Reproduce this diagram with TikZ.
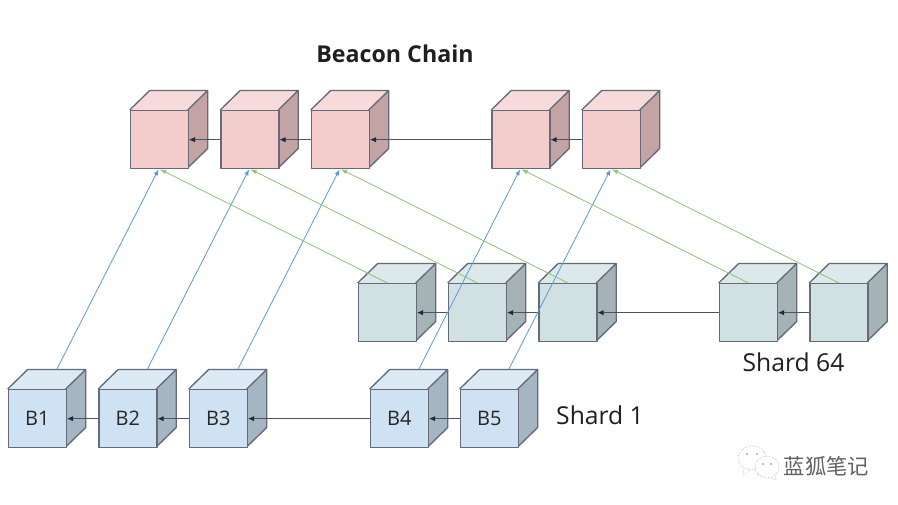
\documentclass[tikz,border=0pt]{standalone}
\usepackage{fontspec}
\setmainfont{Open Sans}
\newfontfamily\cjkf{Noto Sans CJK SC}
\usetikzlibrary{arrows.meta}
\definecolor{pinkF}{HTML}{F4CCCC}\definecolor{pinkT}{HTML}{F7DBDB}\definecolor{pinkS}{HTML}{C3A3A3}
\definecolor{grayF}{HTML}{D0E0E3}\definecolor{grayT}{HTML}{DCE8EA}\definecolor{grayS}{HTML}{A6B3B6}
\definecolor{blueF}{HTML}{CFE2F3}\definecolor{blueT}{HTML}{DCEAF6}\definecolor{blueS}{HTML}{A6B5C2}
\definecolor{edgeC}{HTML}{666A78}
\definecolor{linkC}{HTML}{4A5468}
\definecolor{headC}{HTML}{1C2A44}
\definecolor{upBlue}{HTML}{5E9AD6}
\definecolor{upGreen}{HTML}{8FC474}
\tikzset{
  x=0.75pt,y=-0.75pt,
  face/.style={draw=edgeC,line width=1pt,line join=round},
  front/.style={face,rectangle,minimum width=43.5pt,minimum height=43.5pt,inner sep=0pt,anchor=north west,font=\fontsize{15}{17}\selectfont,text=black!85},
  link/.style={draw=linkC,line width=0.6pt,-{Latex[length=4.5pt,width=4pt,color=headC]}},
  upb/.style={draw=upBlue,line width=0.6pt,-{Latex[length=4.5pt,width=3.5pt]}},
  upg/.style={draw=upGreen,line width=0.6pt,-{Latex[length=4.5pt,width=3.5pt]}},
  lbl/.style={inner sep=0pt,text=black!88},
  bubble/.style={draw=black!50,line width=0.35pt,densely dotted}
}
% name, x, y, colour prefix, label
\newcommand{\cubeat}[5]{%
  \fill[#4T] (#2,#3) -- ++(20,-19.5) -- ++(58,0) -- ++(-20,19.5) -- cycle;
  \fill[#4S] (#2+58,#3) -- ++(20,-19.5) -- ++(0,58) -- ++(-20,19.5) -- cycle;
  \draw[face] (#2,#3) -- ++(20,-19.5) -- ++(58,0) -- ++(0,58) -- ++(-20,19.5) (#2+78,#3-19.5) -- (#2+58,#3);
  \node[front,fill=#4F] (#1) at (#2,#3) {#5};
  \coordinate (#1-back) at (#2+49,#3-19.5);
}
\begin{document}
\begin{tikzpicture}
\useasboundingbox (0,0) rectangle (898,505);
\fill[white] (0,0) rectangle (898,505);
% beacon
\cubeat{a1}{129.7}{110}{pink}{}
\cubeat{a2}{220.2}{110}{pink}{}
\cubeat{a3}{310.7}{110}{pink}{}
\cubeat{a4}{491.2}{110}{pink}{}
\cubeat{a5}{581.7}{110}{pink}{}
% shard 64
\cubeat{c1}{357.7}{283}{gray}{}
\cubeat{c2}{447.7}{283}{gray}{}
\cubeat{c3}{538.2}{283}{gray}{}
\cubeat{c4}{718.7}{283}{gray}{}
\cubeat{c5}{809.2}{283}{gray}{}
% shard 1
\cubeat{b1}{7.7}{389}{blue}{B1}
\cubeat{b2}{98.2}{389}{blue}{B2}
\cubeat{b3}{188.7}{389}{blue}{B3}
\cubeat{b4}{369.7}{389}{blue}{B4}
\cubeat{b5}{459.7}{389}{blue}{B5}
% horizontal links
\foreach \p/\q in {a2/a1,a3/a2,a4/a3,a5/a4,c2/c1,c3/c2,c4/c3,c5/c4,b2/b1,b3/b2,b4/b3,b5/b4}
  \draw[link] (\p.west) -- (\q.east);
% blue uplinks
\foreach \i in {1,...,5}
  \draw[upb] (b\i-back) -- ([xshift=-0.6pt]a\i.south);
% green uplinks
\foreach \i in {1,...,5}
  \draw[upg] (c\i.north) -- ([xshift=0.6pt]a\i.south);
% labels
\node[lbl,font=\bfseries\fontsize{17.4}{20}\selectfont] (title) at (395,54) {Beacon Chain};
\node[lbl,font=\fontsize{18.5}{22}\selectfont] (s64) at (793.5,362) {Shard 64};
\node[lbl,font=\fontsize{18.5}{22}\selectfont] (s1) at (600,415) {Shard 1};
% watermark
\draw[bubble,fill=white] (752,458) ellipse (14 and 12);
\draw[bubble] (744,469) -- (743,475) -- (750,470);
\draw[bubble,fill=white] (767,467) ellipse (12 and 11);
\draw[bubble] (771,478) -- (776,480) -- (775,475);
\fill[black!50] (747,454) circle (0.8) (757,454) circle (0.8) (763,464) circle (0.8) (771,464) circle (0.8);
\node[inner sep=0pt,text=black!62,font=\cjkf\fontsize{16}{18}\selectfont] (mark) at (826.5,466) {蓝狐笔记};
\end{tikzpicture}
\end{document}
